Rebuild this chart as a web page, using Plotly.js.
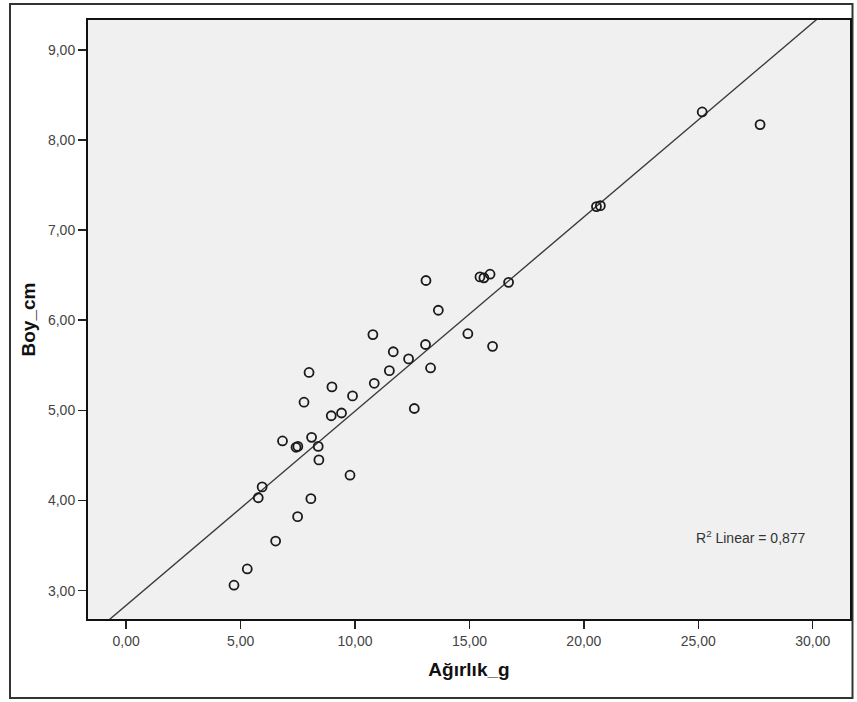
<!DOCTYPE html>
<html>
<head>
<meta charset="utf-8">
<script src="https://cdn.plot.ly/plotly-3.0.1.min.js"></script>
<style>
  html, body { margin: 0; padding: 0; background: #ffffff; }
  #chart { width: 857px; height: 702px; }
</style>
</head>
<body>
<div id="chart"></div>
<script>
// Ağırlık_g (x) and Boy_cm (y)
const agirlik = [4.71, 5.29, 5.77, 5.94, 6.53, 6.83, 7.42, 7.50, 7.49, 7.77,
                 7.99, 8.07, 8.10, 8.39, 8.42, 8.96, 8.99, 9.41, 9.78, 9.89,
                 10.78, 10.84, 11.50, 11.67, 12.34, 12.59, 13.08, 13.10, 13.30, 13.64,
                 14.93, 15.46, 15.63, 15.90, 16.01, 16.71, 20.55, 20.72, 25.17, 27.70];
const boy     = [3.06, 3.24, 4.03, 4.15, 3.55, 4.66, 4.59, 4.60, 3.82, 5.09,
                 5.42, 4.02, 4.70, 4.60, 4.45, 4.94, 5.26, 4.97, 4.28, 5.16,
                 5.84, 5.30, 5.44, 5.65, 5.57, 5.02, 5.73, 6.44, 5.47, 6.11,
                 5.85, 6.48, 6.47, 6.51, 5.71, 6.42, 7.26, 7.27, 8.31, 8.17];
const xTicks = [0, 5, 10, 15, 20, 25, 30];
const yTicks = [3, 4, 5, 6, 7, 8, 9];
const xRange = [-1.67, 31.63];
const yRange = [2.685, 9.33];
const r2Label = "R<sup>2</sup> Linear = 0,877";

// least-squares fit line from the data
const n = agirlik.length;
const mx = agirlik.reduce((a, b) => a + b, 0) / n;
const my = boy.reduce((a, b) => a + b, 0) / n;
let sxy = 0, sxx = 0;
for (let i = 0; i < n; i++) { sxy += (agirlik[i] - mx) * (boy[i] - my); sxx += (agirlik[i] - mx) ** 2; }
const slope = sxy / sxx;
const intercept = my - slope * mx;
const fitX = [xRange[0] - 1, xRange[1] + 1];
const fitY = fitX.map(v => intercept + slope * v);

const font = "'Liberation Sans', Arial, sans-serif";

const traces = [
  {
    x: fitX, y: fitY, type: 'scatter', mode: 'lines',
    line: { color: '#3a3a3a', width: 1.4 },
    hoverinfo: 'skip', showlegend: false
  },
  {
    x: agirlik, y: boy, type: 'scatter', mode: 'markers',
    marker: { symbol: 'circle-open', size: 9, color: '#1a1a1a', line: { width: 1.8, color: '#1a1a1a' } },
    showlegend: false
  }
];

const layout = {
  width: 857, height: 702,
  margin: { l: 88, r: 7, t: 20, b: 83 },
  paper_bgcolor: '#ffffff',
  plot_bgcolor: '#f0f0f0',
  separators: ',.',
  font: { family: font, color: '#333333', size: 14 },
  xaxis: {
    range: xRange, tickvals: xTicks, tickformat: '.2f',
    showgrid: false, zeroline: false,
    showline: true, mirror: true, linecolor: '#111111', linewidth: 2,
    ticks: 'outside', ticklen: 8, tickwidth: 1.5, tickcolor: '#222222',
    tickfont: { family: font, size: 14, color: '#444444' },
    title: { text: 'Ağırlık_g', font: { family: font, size: 19, color: '#111111', weight: 'bold' }, standoff: 15 }
  },
  yaxis: {
    range: yRange, tickvals: yTicks, tickformat: '.2f',
    showgrid: false, zeroline: false,
    showline: true, mirror: true, linecolor: '#111111', linewidth: 2,
    ticks: 'outside', ticklen: 8, tickwidth: 1.5, tickcolor: '#222222',
    tickfont: { family: font, size: 14, color: '#444444' },
    title: { text: 'Boy_cm', font: { family: font, size: 19, color: '#111111', weight: 'bold' }, standoff: 7 }
  },
  annotations: [
    { text: r2Label, xref: 'paper', yref: 'paper', x: 0.795, y: 0.137,
      xanchor: 'left', yanchor: 'middle', showarrow: false,
      font: { family: font, size: 14, color: '#333333' } }
  ],
  shapes: [
    { type: 'rect', xref: 'paper', yref: 'paper', layer: 'below',
      x0: (10 - 88) / 762, x1: (852.5 - 88) / 762,
      y0: (619 - 698) / 599, y1: (619 - 4) / 599,
      line: { color: '#333333', width: 2 }, fillcolor: 'rgba(0,0,0,0)' }
  ]
};

Plotly.newPlot('chart', traces, layout, { displayModeBar: false, staticPlot: true });
</script>
</body>
</html>
